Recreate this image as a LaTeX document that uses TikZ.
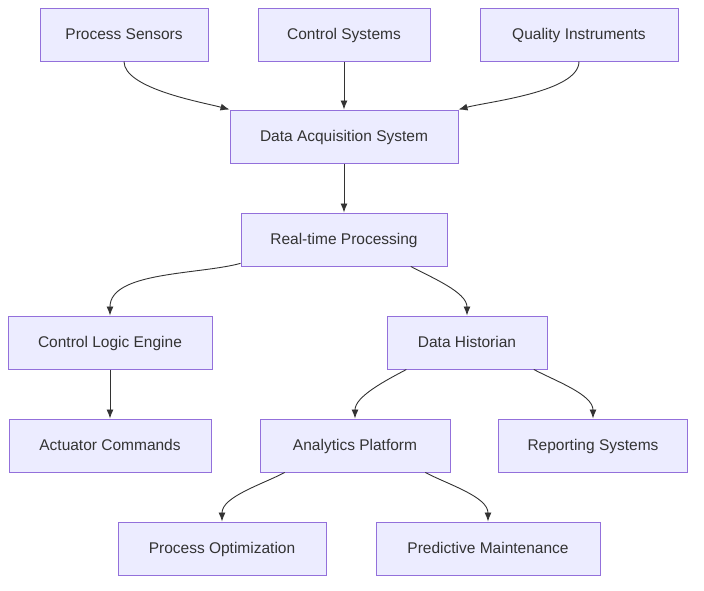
\documentclass[tikz,border=0pt]{standalone}
\usepackage{fontspec}
\setmainfont{Liberation Sans}
\usepackage{xcolor}
\usepackage{tikz}
\usetikzlibrary{arrows,arrows.meta,positioning,calc}
\definecolor{mmfill}{HTML}{ECECFF}
\definecolor{mmline}{HTML}{9370DB}
\definecolor{mmdark}{HTML}{333333}

\begin{document}
\begin{tikzpicture}[
    x=1pt, y=1pt,
    box/.style={rectangle, draw=mmline, fill=mmfill, line width=1pt, minimum height=53pt, text height=12pt, text depth=1.5pt, text=mmdark, font=\fontsize{15.5}{18}\selectfont},
    arrow/.style={draw, -{Latex[length=9pt,width=7pt]}, line width=0.9pt, color=mmdark}
]
\useasboundingbox (0,0) rectangle (704,-590);

\node [box, minimum width=168pt] (sensors) at (124,-34.5) {Process Sensors};
\node [box, minimum width=172pt] (ctrlsys) at (344,-34.5) {Control Systems};
\node [box, minimum width=198pt] (quality) at (579,-34.5) {Quality Instruments};
\node [box, minimum width=228pt] (daq) at (344,-136.5) {Data Acquisition System};
\node [box, minimum width=206pt] (rtp) at (344,-239.5) {Real-time Processing};
\node [box, minimum width=204pt] (logic) at (110,-342.5) {Control Logic Engine};
\node [box, minimum width=160pt] (historian) at (467,-342.5) {Data Historian};
\node [box, minimum width=202pt] (actuator) at (110,-445.5) {Actuator Commands};
\node [box, minimum width=190pt] (analytics) at (355,-445.5) {Analytics Platform};
\node [box, minimum width=189pt] (reporting) at (593,-445.5) {Reporting Systems};
\node [box, minimum width=208pt] (optim) at (222,-548.5) {Process Optimization};
\node [box, minimum width=224pt] (predict) at (488,-548.5) {Predictive Maintenance};

% sources into acquisition
\draw [arrow] (sensors.south) to[out=-90, in=165, looseness=0.6] (daq.north west);
\draw [arrow] (ctrlsys.south) -- (daq.north);
\draw [arrow] (quality.south) to[out=-90, in=15, looseness=0.6] (daq.north east);
\draw [arrow] (daq.south) -- (rtp.north);

% processing branches
\draw [arrow] (rtp.193) to[out=-165, in=90, looseness=0.8] (logic.north);
\draw [arrow] (rtp.-22) to[out=-28, in=90, looseness=0.8] (historian.north);
\draw [arrow] (logic.south) -- (actuator.north);
\draw [arrow] (historian.204) to[out=-152, in=90, looseness=0.8] (analytics.north);
\draw [arrow] (historian.-22) to[out=-28, in=90, looseness=0.8] (reporting.north);
\draw [arrow] (analytics.201) to[out=-152, in=90, looseness=0.8] (optim.north);
\draw [arrow] (analytics.-21) to[out=-28, in=90, looseness=0.8] (predict.north);

\end{tikzpicture}
\end{document}
